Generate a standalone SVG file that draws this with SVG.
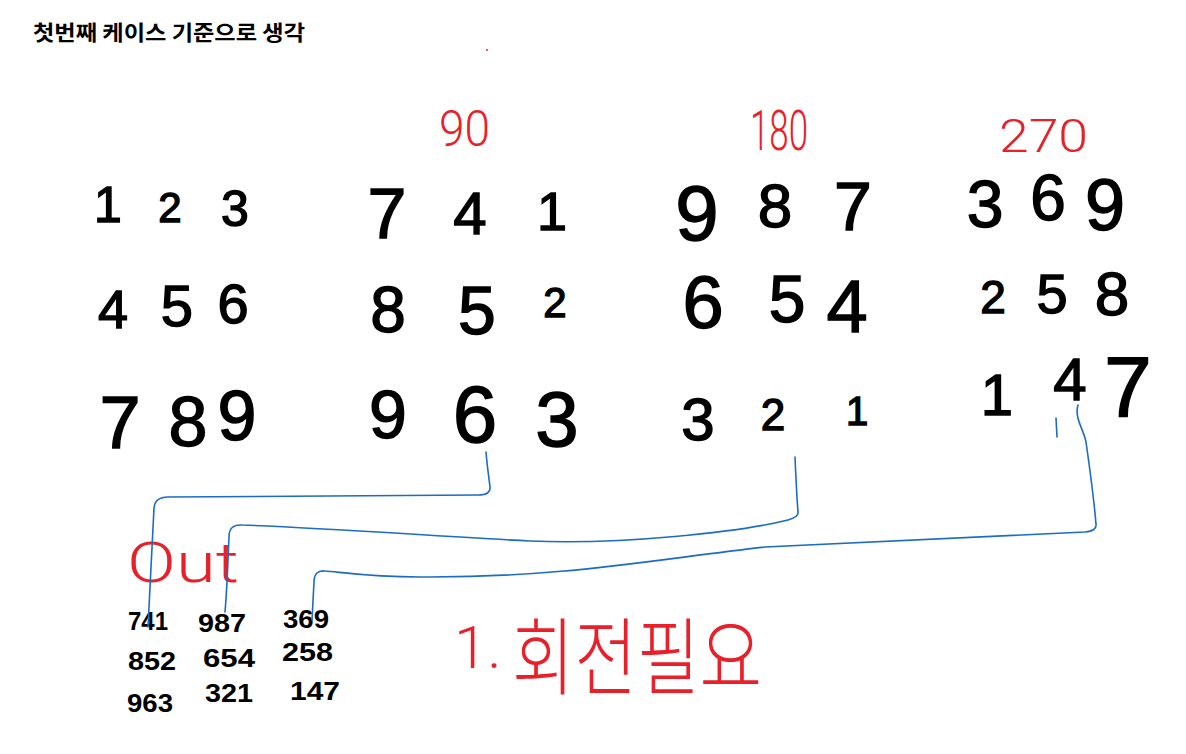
<svg xmlns="http://www.w3.org/2000/svg" width="1186" height="754" viewBox="0 0 1186 754">
<style>
.t{font-family:"Noto Sans CJK KR","Noto Sans",sans-serif;font-weight:bold;fill:#000}
.d{font-family:"Liberation Sans","DejaVu Sans",sans-serif;fill:#000;stroke:#000;stroke-width:1.4;text-anchor:middle}
.s{font-family:"Liberation Sans","DejaVu Sans",sans-serif;font-weight:bold;fill:#000;font-size:26px}
.r{font-family:Roboto,"Noto Sans CJK KR","Noto Sans",sans-serif;font-weight:300;fill:#e8202a}
.c{fill:none;stroke:#1a6cc4;stroke-width:1.6;stroke-linecap:round;stroke-linejoin:round}
</style>
<rect width="1186" height="754" fill="#fff"/>
<text class="t" x="33" y="40" font-size="21" textLength="272" lengthAdjust="spacingAndGlyphs">첫번째 케이스 기준으로 생각</text>
<circle cx="487" cy="50" r="1" fill="#e8202a"/>

<g id="labels">
<text class="r" x="439" y="146" font-size="50" textLength="51" lengthAdjust="spacingAndGlyphs">90</text>
<text class="r" x="750" y="150" font-size="56" textLength="58" lengthAdjust="spacingAndGlyphs">180</text>
<text class="r" x="999" y="152" font-size="46" textLength="89" lengthAdjust="spacingAndGlyphs">270</text>
</g>

<g id="m1">
<text class="d" x="108" y="222" font-size="50">1</text>
<text class="d" x="170" y="222" font-size="42">2</text>
<text class="d" x="235" y="226" font-size="50">3</text>
<text class="d" x="113" y="328" font-size="54">4</text>
<text class="d" x="177" y="326" font-size="58">5</text>
<text class="d" x="233" y="323" font-size="56">6</text>
<text class="d" x="120" y="448" font-size="74">7</text>
<text class="d" x="188" y="446" font-size="70">8</text>
<text class="d" x="237" y="440" font-size="70">9</text>
</g>

<g id="m2">
<text class="d" x="387" y="238" font-size="70">7</text>
<text class="d" x="470" y="234" font-size="60">4</text>
<text class="d" x="552" y="230" font-size="54">1</text>
<text class="d" x="388" y="332" font-size="64">8</text>
<text class="d" x="477" y="334" font-size="68">5</text>
<text class="d" x="555" y="317" font-size="42">2</text>
<text class="d" x="388" y="438" font-size="68">9</text>
<text class="d" x="475" y="442" font-size="80">6</text>
<text class="d" x="557" y="446" font-size="78">3</text>
</g>

<g id="m3">
<text class="d" x="697" y="240" font-size="78">9</text>
<text class="d" x="775" y="227" font-size="62">8</text>
<text class="d" x="853" y="230" font-size="68">7</text>
<text class="d" x="703" y="328" font-size="74">6</text>
<text class="d" x="787" y="322" font-size="66">5</text>
<text class="d" x="847" y="332" font-size="74">4</text>
<text class="d" x="698" y="440" font-size="60">3</text>
<text class="d" x="773" y="430" font-size="44">2</text>
<text class="d" x="857" y="425" font-size="40">1</text>
</g>

<g id="m4">
<text class="d" x="985" y="227" font-size="66">3</text>
<text class="d" x="1048" y="220" font-size="64">6</text>
<text class="d" x="1105" y="230" font-size="72">9</text>
<text class="d" x="993" y="313" font-size="46">2</text>
<text class="d" x="1052" y="313" font-size="56">5</text>
<text class="d" x="1112" y="315" font-size="62">8</text>
<text class="d" x="997" y="415" font-size="58">1</text>
<text class="d" x="1070" y="400" font-size="60">4</text>
<text class="d" x="1128" y="416" font-size="86">7</text>
</g>

<g id="out">
<text class="r" x="127" y="582" font-size="56" textLength="112" lengthAdjust="spacingAndGlyphs">Out</text>
<text class="s" x="128" y="630" textLength="40" lengthAdjust="spacingAndGlyphs">741</text>
<text class="s" x="198" y="632" textLength="48" lengthAdjust="spacingAndGlyphs">987</text>
<text class="s" x="283" y="628" textLength="46" lengthAdjust="spacingAndGlyphs">369</text>
<text class="s" x="128" y="670" textLength="48" lengthAdjust="spacingAndGlyphs">852</text>
<text class="s" x="203" y="667" textLength="52" lengthAdjust="spacingAndGlyphs">654</text>
<text class="s" x="282" y="661" textLength="51" lengthAdjust="spacingAndGlyphs">258</text>
<text class="s" x="127" y="712" textLength="46" lengthAdjust="spacingAndGlyphs">963</text>
<text class="s" x="205" y="702" textLength="48" lengthAdjust="spacingAndGlyphs">321</text>
<text class="s" x="290" y="700" textLength="50" lengthAdjust="spacingAndGlyphs">147</text>
</g>

<g id="note">
<text class="r" font-size="60"><tspan x="454" y="668">1.</tspan><tspan x="512" y="688" font-size="84" textLength="250" lengthAdjust="spacingAndGlyphs">회전필요</tspan></text>
</g>

<g id="connectors">
<path class="c" d="M486,452 C487,465 489,478 490,487 Q491,495 478,495 L168,497 Q155,497 154,508 C152,545 150,590 148,627"/>
<path class="c" d="M795,457 C796,480 797,500 798,512 Q799,517 788,520 C740,532 620,545 530,541 C430,536 330,528 242,525 Q229,524 229,537 C228,560 227,590 225,612"/>
<path class="c" d="M1078,405 C1074,418 1084,430 1086,442 C1090,470 1094,500 1096,524 Q1097,531 1085,532 C1000,536 900,540 765,547 C650,560 560,578 420,577 C370,577 340,572 325,571 Q314,570 314,582 L312,620"/>
<path class="c" d="M1056,418 L1057,437"/>
</g>
</svg>
